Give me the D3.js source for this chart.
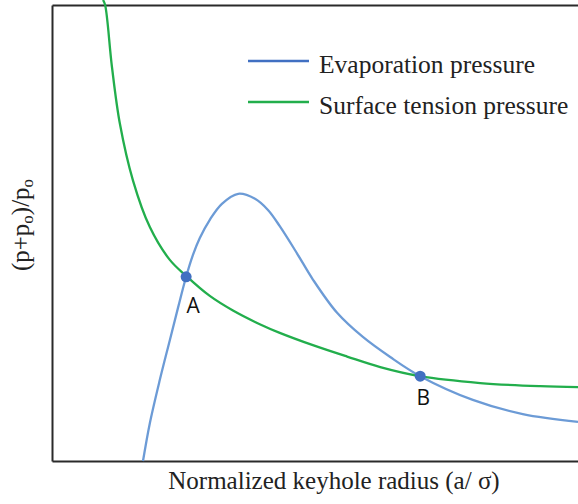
<!DOCTYPE html>
<html>
<head>
<meta charset="utf-8">
<script src="https://cdn.jsdelivr.net/npm/d3@7"></script>
<style>
  html, body { margin: 0; padding: 0; background: #fff; }
  svg { display: block; }
</style>
</head>
<body>
<svg id="chart" width="578" height="504"></svg>
<script>
// ---- Data (normalized keyhole radius, (p+po)/po) ----
const surfaceX = [0.97, 1.01, 1.14, 1.29, 1.54, 1.86, 2.24, 2.55, 3.00, 3.44, 3.95, 4.33, 4.96, 5.61, 6.24, 7.00, 8.14, 9.28, 10.0];
const surfaceY = [10.11, 10.00, 8.64, 7.40, 6.15, 5.13, 4.41, 4.06, 3.62, 3.30, 3.00, 2.81, 2.54, 2.29, 2.06, 1.86, 1.71, 1.64, 1.62];

const evapX = [1.73, 1.86, 2.05, 2.24, 2.40, 2.55, 2.68, 2.81, 3.00, 3.23, 3.54, 3.86, 4.11, 4.33, 4.66, 4.96, 5.42, 5.91, 6.43, 7.00, 8.00, 8.95, 10.0];
const evapY = [0.00, 0.83, 1.78, 2.65, 3.38, 4.04, 4.52, 4.89, 5.29, 5.64, 5.86, 5.75, 5.50, 5.15, 4.55, 3.98, 3.25, 2.72, 2.28, 1.86, 1.34, 1.03, 0.86];

const pointNames = ["A", "B"];
const pointX = [2.55, 7.00];
const pointY = [4.04, 1.86];

const seriesNames = ["Evaporation pressure", "Surface tension pressure"];
const xTitle = "Normalized keyhole radius (a/ σ)";

(function () {
// ---- Layout ----
const svg = d3.select("#chart");
const mLeft = 52, mRight = 578, mTop = 5, mBottom = 461;
const x = d3.scaleLinear().domain([0, 10]).range([mLeft, mRight]);
const y = d3.scaleLinear().domain([0, 10]).range([mBottom, mTop]);

const blue = "#6c9bd6", blueDark = "#4170c2", green = "#22ae4c", axisCol = "#2a2a2a";

// Axes (no ticks)
const axisStyle = g => {
  g.selectAll("path").attr("stroke", axisCol).attr("stroke-width", 2);
};
svg.append("g").attr("transform", `translate(0,${mBottom})`)
  .call(d3.axisBottom(x).tickValues([]).tickSizeOuter(0)).call(axisStyle);
svg.append("g").attr("transform", `translate(0,${mTop})`)
  .call(d3.axisTop(x).tickValues([]).tickSizeOuter(0)).call(axisStyle);
svg.append("g").attr("transform", `translate(${mLeft},0)`)
  .call(d3.axisLeft(y).tickValues([]).tickSizeOuter(0)).call(axisStyle);

const line = d3.line().x(d => x(d[0])).y(d => y(d[1])).curve(d3.curveCatmullRom.alpha(0.5));

svg.append("path")
  .datum(surfaceX.map((v, i) => [v, surfaceY[i]]))
  .attr("d", line).attr("fill", "none").attr("stroke", green).attr("stroke-width", 2.3);

svg.append("path")
  .datum(evapX.map((v, i) => [v, evapY[i]]))
  .attr("d", line).attr("fill", "none").attr("stroke", blue).attr("stroke-width", 2.3);

// Intersection points
svg.selectAll("circle.pt").data(pointNames).join("circle")
  .attr("class", "pt")
  .attr("cx", (d, i) => x(pointX[i])).attr("cy", (d, i) => y(pointY[i]))
  .attr("r", 5.5).attr("fill", blueDark);

svg.selectAll("text.pt").data(pointNames).join("text")
  .attr("class", "pt")
  .attr("x", (d, i) => x(pointX[i]) + (i === 0 ? 7 : 3))
  .attr("y", (d, i) => y(pointY[i]) + (i === 0 ? 36 : 29))
  .attr("text-anchor", "middle")
  .attr("font-family", "'Open Sans', 'Liberation Sans', sans-serif")
  .attr("font-size", 21).attr("fill", "#111")
  .text(d => d);

// Legend
const legCols = [blueDark, green];
const leg = svg.append("g");
seriesNames.forEach((name, i) => {
  const yy = 61 + i * 41;
  leg.append("line").attr("x1", 248).attr("x2", 309).attr("y1", yy).attr("y2", yy)
    .attr("stroke", legCols[i]).attr("stroke-width", 2.3);
  leg.append("text").attr("x", 319).attr("y", yy + 12)
    .attr("font-family", "'Liberation Serif', 'Times New Roman', serif")
    .attr("font-size", 25.5).attr("fill", "#222").text(name);
});

// Axis titles
svg.append("text").attr("x", 334).attr("y", 489).attr("text-anchor", "middle")
  .attr("font-family", "'Liberation Serif', 'Times New Roman', serif")
  .attr("font-size", 25).attr("fill", "#222").text(xTitle);

const yt = svg.append("text")
  .attr("transform", "translate(29,225) rotate(-90)")
  .attr("text-anchor", "middle")
  .attr("font-family", "'Liberation Serif', 'Times New Roman', serif")
  .attr("font-size", 25).attr("fill", "#222");
yt.append("tspan").text("(p+p");
yt.append("tspan").attr("font-size", 17).attr("dy", 4).text("o");
yt.append("tspan").attr("dy", -4).text(")/p");
yt.append("tspan").attr("font-size", 17).attr("dy", 4).text("o");
})();
</script>
</body>
</html>
